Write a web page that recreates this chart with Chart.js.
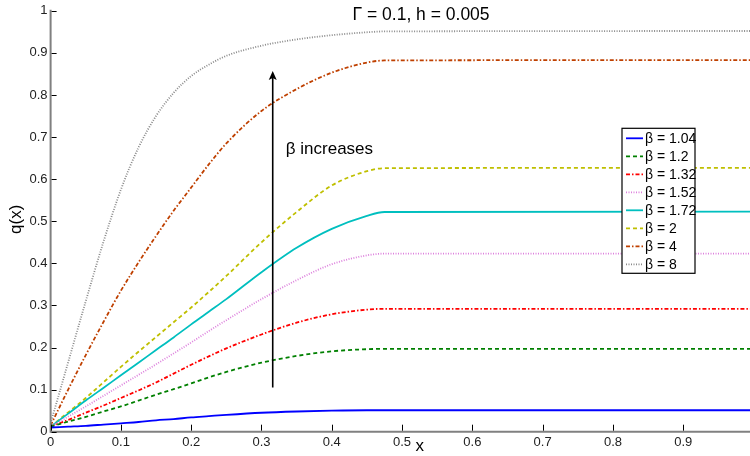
<!DOCTYPE html>
<html><head><meta charset="utf-8">
<script src="https://cdn.jsdelivr.net/npm/chart.js@4/dist/chart.umd.min.js"></script>
<style>html,body{margin:0;padding:0;background:#fff}#wrap{width:750px;height:456px;position:relative}</style>
</head><body><div id="wrap"><canvas id="c" width="750" height="456"></canvas></div>
<script>
const xValues = [0,0.025,0.05,0.075,0.1,0.125,0.15,0.175,0.2,0.225,0.25,0.3,0.35,0.4,0.45,0.475,0.995];
const betaLabels = ['β = 1.04','β = 1.2','β = 1.32','β = 1.52','β = 1.72','β = 2','β = 4','β = 8'];
const qBeta104 = [0.010,0.012,0.014,0.017,0.020,0.023,0.027,0.030,0.034,0.037,0.040,0.045,0.048,0.050,0.051,0.051,0.051];
const qBeta12  = [0.012,0.024,0.035,0.048,0.060,0.074,0.088,0.101,0.115,0.129,0.142,0.164,0.180,0.191,0.196,0.197,0.197];
const qBeta132 = [0.012,0.028,0.045,0.062,0.080,0.098,0.117,0.138,0.159,0.179,0.198,0.231,0.259,0.279,0.290,0.292,0.292];
const qBeta152 = [0.012,0.036,0.060,0.085,0.110,0.135,0.160,0.186,0.212,0.239,0.265,0.315,0.360,0.398,0.419,0.423,0.423];
const qBeta172 = [0.012,0.043,0.074,0.104,0.134,0.164,0.194,0.224,0.255,0.285,0.315,0.379,0.437,0.482,0.513,0.522,0.523];
const qBeta2   = [0.012,0.046,0.080,0.117,0.154,0.190,0.225,0.260,0.295,0.332,0.370,0.450,0.522,0.585,0.619,0.626,0.627];
const qBeta4   = [0.015,0.100,0.182,0.260,0.335,0.402,0.465,0.525,0.580,0.635,0.685,0.762,0.814,0.853,0.877,0.882,0.883];
const qBeta8   = [0.020,0.165,0.310,0.450,0.575,0.675,0.750,0.805,0.845,0.872,0.893,0.917,0.932,0.942,0.949,0.951,0.952];
const xTicks = [0,0.1,0.2,0.3,0.4,0.5,0.6,0.7,0.8,0.9];
const yTicks = [0,0.1,0.2,0.3,0.4,0.5,0.6,0.7,0.8,0.9,1];
const titleText = 'Γ = 0.1, h = 0.005';
const annotationText = 'β increases';
const xLabel = 'x';
const yLabel = 'q(x)';

const seriesValues = [qBeta104,qBeta12,qBeta132,qBeta152,qBeta172,qBeta2,qBeta4,qBeta8];
const styles = [
  {c:'#0000ff', d:[]},
  {c:'#008000', d:[4,3]},
  {c:'#ff0000', d:[4,2,1.5,2]},
  {c:'#dd80dd', d:[1,1.5]},
  {c:'#00bfbf', d:[]},
  {c:'#bfbf00', d:[4,3]},
  {c:'#bf4000', d:[4,2,1.5,2]},
  {c:'#8a8a8a', d:[1,1.5]}
];
const FONT = '"Liberation Sans", Arial, Helvetica, sans-serif';

const datasets = seriesValues.map((vals,i)=>({
  label: betaLabels[i],
  data: xValues.map((x,j)=>({x:x,y:vals[j]})),
  borderColor: styles[i].c,
  borderDash: styles[i].d,
  borderWidth: 1.8,
  pointRadius: 0,
  fill: false,
  cubicInterpolationMode: 'monotone'
}));

const decor = {
  id:'decor',
  afterDatasetsDraw(chart){
    const {ctx, chartArea:a, scales:{x,y}} = chart;
    ctx.save();
    ctx.strokeStyle = '#808080'; ctx.lineWidth = 2; ctx.setLineDash([]);
    ctx.beginPath(); ctx.moveTo(a.left, a.top-1); ctx.lineTo(a.left, a.bottom+1); ctx.stroke();
    ctx.beginPath(); ctx.moveTo(a.left, a.bottom); ctx.lineTo(a.right, a.bottom); ctx.stroke();
    ctx.strokeStyle = '#000'; ctx.lineWidth = 1;
    xTicks.forEach(v=>{const px=Math.round(x.getPixelForValue(v))+0.5; ctx.beginPath(); ctx.moveTo(px,a.bottom-1); ctx.lineTo(px,a.bottom-7); ctx.stroke();});
    yTicks.forEach(v=>{const py=Math.round(y.getPixelForValue(v))+0.5; ctx.beginPath(); ctx.moveTo(a.left+1,py); ctx.lineTo(a.left+6,py); ctx.stroke();});
    const ax = x.getPixelForValue(0.316), ay0 = y.getPixelForValue(0.105), ay1 = y.getPixelForValue(0.857);
    ctx.lineWidth = 1.6; ctx.strokeStyle='#000'; ctx.fillStyle='#000';
    ctx.beginPath(); ctx.moveTo(ax, ay0); ctx.lineTo(ax, ay1+6); ctx.stroke();
    ctx.beginPath(); ctx.moveTo(ax, ay1); ctx.lineTo(ax-4, ay1+9); ctx.lineTo(ax, ay1+7); ctx.lineTo(ax+4, ay1+9); ctx.closePath(); ctx.fill();
    ctx.fillStyle = '#000';
    ctx.font = '17px ' + FONT; ctx.textAlign='left'; ctx.textBaseline='middle';
    ctx.fillText(annotationText, x.getPixelForValue(0.3346), y.getPixelForValue(0.671));
    ctx.font = '17.5px ' + FONT; ctx.textAlign='center';
    ctx.fillText(titleText, x.getPixelForValue(0.527), 15);
    ctx.font = '17px ' + FONT;
    ctx.fillText(xLabel, x.getPixelForValue(0.525), a.bottom + 15);
    ctx.save(); ctx.translate(16, (a.top+a.bottom)/2 - 2); ctx.rotate(-Math.PI/2);
    ctx.fillText(yLabel, 0, 0); ctx.restore();
    const lx = a.right - 128, ly = a.top + 117.5, lw = 73, lh = 145;
    ctx.fillStyle = '#fff'; ctx.fillRect(lx, ly, lw, lh);
    ctx.strokeStyle = '#000'; ctx.lineWidth = 1.2; ctx.strokeRect(lx, ly, lw, lh);
    ctx.font = '14px ' + FONT; ctx.textAlign='left'; ctx.textBaseline='middle';
    chart.data.datasets.forEach((ds,i)=>{
      const ry = ly + 10 + i*18;
      ctx.strokeStyle = ds.borderColor; ctx.lineWidth = 1.8; ctx.setLineDash(ds.borderDash);
      ctx.beginPath(); ctx.moveTo(lx+4, ry); ctx.lineTo(lx+21, ry); ctx.stroke();
      ctx.setLineDash([]);
      ctx.fillStyle = '#000'; ctx.fillText(ds.label, lx+23, ry+1);
    });
    ctx.restore();
  }
};

new Chart(document.getElementById('c'), {
  type:'line',
  data:{datasets},
  options:{
    responsive:false, animation:false, devicePixelRatio:1,
    layout:{padding:{top:7.3, right:0, left:0, bottom:0}},
    plugins:{legend:{display:false}, tooltip:{enabled:false}},
    scales:{
      x:{type:'linear', min:0, max:0.995,
        afterBuildTicks(s){ s.ticks = xTicks.map(v=>({value:v})); },
        afterFit(s){ s.height = 24.3; },
        ticks:{font:{size:13, family:FONT}, color:'#222', padding:3, maxRotation:0, autoSkip:false,
          callback:(v)=>String(+v.toFixed(2))},
        grid:{display:false, drawTicks:false}, border:{display:false}},
      y:{type:'linear', min:0, max:1,
        afterBuildTicks(s){ s.ticks = yTicks.map(v=>({value:v})); },
        afterFit(s){ s.width = 50.6; },
        ticks:{font:{size:13, family:FONT}, color:'#222', padding:3, autoSkip:false,
          callback:(v)=>String(+v.toFixed(2))},
        grid:{display:false, drawTicks:false}, border:{display:false}}
    }
  },
  plugins:[decor]
});
</script></body></html>
